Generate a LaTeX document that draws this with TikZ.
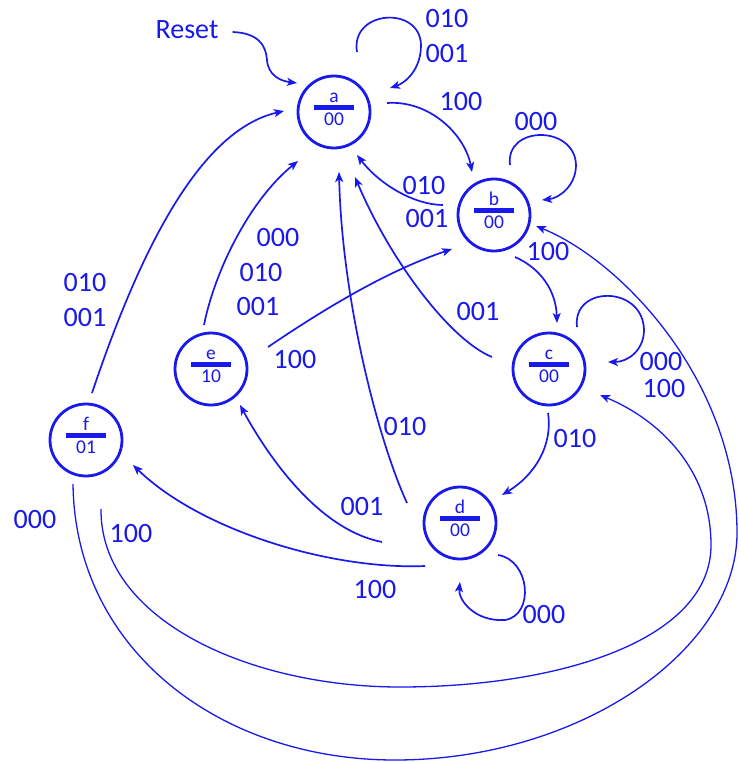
\documentclass[tikz,border=0pt]{standalone}
\usepackage{fontspec}
\setmainfont{Carlito}
\usetikzlibrary{calc,arrows.meta}
\definecolor{mb}{RGB}{25,25,235}
\newcommand\stbox[2]{\vbox{\hsize=40pt\hbox to 40pt{\hss\vphantom{b0}#1\hss}\kern3pt\hrule height 4.5pt\kern3pt\hbox to 40pt{\hss#2\hss}}}
\begin{document}
\begin{tikzpicture}[x=1pt,y=-1pt,
  state/.style={circle,draw=mb,line width=2.8pt,minimum size=72pt,inner sep=0pt},
  stx/.style={inner sep=0pt,text=mb,font=\fontsize{19.5}{22}\selectfont,yshift=5pt},
  lbl/.style={inner sep=0pt,text=mb,font=\fontsize{28}{32}\selectfont},
  edge/.style={draw=mb,line width=1.7pt,-{Stealth[length=10pt,width=8pt,inset=2.5pt]}},
  longedge/.style={edge,line width=1.3pt}]
\useasboundingbox[fill=white] (0,0) rectangle (738,762);
% states
\node[state] (a) at (334,112) {};
\node[state] (b) at (494,215) {};
\node[state] (c) at (549,369) {};
\node[state] (d) at (460,523) {};
\node[state] (e) at (211,369) {};
\node[state] (f) at (86,440) {};
\node[stx] (ta) at (a) {\stbox{a}{00}};
\node[stx] (tb) at (b) {\stbox{b}{00}};
\node[stx] (tc) at (c) {\stbox{c}{00}};
\node[stx] (td) at (d) {\stbox{d}{00}};
\node[stx] (te) at (e) {\stbox{e}{10}};
\node[stx] (tf) at (f) {\stbox{f}{01}};
% reset
\node[lbl] (reset) at (187,30) {Reset};
\draw[edge] ($(reset.east)+(14,2)$) .. controls (258,33) and (266,45) .. (267,60) .. controls (268,75) and (280,81) .. ($(a)+(-37,-29)$);
% a
\draw[edge] ($(a)+(23,-60)$) .. controls (350,10) and (420,5) .. (421,45) .. controls (421,70) and (405,83) .. ($(a)+(56,-24)$);
\draw[edge] ($(a)+(53,-9)$) .. controls (430,100) and (465,135) .. ($(b)+(-22,-43)$);
% b
\draw[edge] ($(b)+(-51,-10)$) .. controls (415,205) and (380,185) .. ($(a)+(23,43)$);
\draw[edge] ($(b)+(16,-50)$) .. controls (505,125) and (575,125) .. (576,165) .. controls (576,185) and (560,198) .. ($(b)+(48,-15)$);
\draw[edge] ($(b)+(21,42)$) .. controls (540,268) and (556,290) .. ($(c)+(8,-46)$);
% c
\draw[edge] ($(c)+(28,-42)$) .. controls (572,285) and (643,285) .. (644,330) .. controls (644,350) and (628,362) .. ($(c)+(59,-7)$);
\draw[edge] ($(c)+(-57,-12)$) .. controls (450,340) and (390,260) .. ($(a)+(21,65)$);
\draw[edge] ($(c)+(-1,44)$) .. controls (553,445) and (535,475) .. ($(d)+(42,-28)$);
% d
\draw[edge] ($(d)+(38,32)$) .. controls (530,560) and (535,615) .. (505,620) .. controls (475,622) and (458,600) .. ($(d)+(0,59)$);
\draw[edge] ($(d)+(-53,-20)$) .. controls (378,440) and (342,300) .. ($(a)+(5,60)$);
\draw[edge] ($(d)+(-78,19)$) .. controls (320,530) and (270,460) .. ($(e)+(29,36)$);
\draw[edge] ($(d)+(-35,43)$) .. controls (330,570) and (200,530) .. ($(f)+(47,25)$);
% e
\draw[edge] ($(e)+(-7,-44)$) .. controls (215,270) and (250,200) .. ($(a)+(-36,49)$);
\draw[edge] ($(e)+(57,-22)$) .. controls (330,305) and (390,270) .. ($(b)+(-42,34)$);
% f
\draw[edge] ($(f)+(6,-47)$) .. controls (140,250) and (200,130) .. ($(a)+(-50,-1)$);
\draw[longedge] ($(f)+(15,69)$) .. controls (100,620) and (250,687) .. (400,687) .. controls (560,687) and (711,640) .. (711,545) .. controls (711,470) and (660,420) .. ($(c)+(51,26)$);
\draw[longedge] ($(f)+(-13,44)$) .. controls (75,650) and (220,760) .. (395,760) .. controls (580,760) and (737,650) .. (737,533) .. controls (737,380) and (620,260) .. ($(b)+(42,11)$);
% labels
\node[lbl] (l1) at (447,19) {010};
\node[lbl] (l2) at (447,54) {001};
\node[lbl] (l3) at (461,102) {100};
\node[lbl] (l4) at (536,122) {000};
\node[lbl] (l5) at (424,186) {010};
\node[lbl] (l6) at (427,219) {001};
\node[lbl] (l7) at (548,252) {100};
\node[lbl] (l8) at (478,312) {001};
\node[lbl] (l9) at (661,362) {000};
\node[lbl] (l10) at (664,389) {100};
\node[lbl] (l11) at (575,439) {010};
\node[lbl] (l12) at (544,615) {000};
\node[lbl] (l13) at (405,427) {010};
\node[lbl] (l14) at (362,507) {001};
\node[lbl] (l15) at (375,590) {100};
\node[lbl] (l16) at (278,238) {000};
\node[lbl] (l17) at (261,273) {010};
\node[lbl] (l18) at (258,307) {001};
\node[lbl] (l19) at (295,360) {100};
\node[lbl] (l20) at (85,283) {010};
\node[lbl] (l21) at (85,318) {001};
\node[lbl] (l22) at (35,520) {000};
\node[lbl] (l23) at (131,534) {100};
\end{tikzpicture}
\end{document}
